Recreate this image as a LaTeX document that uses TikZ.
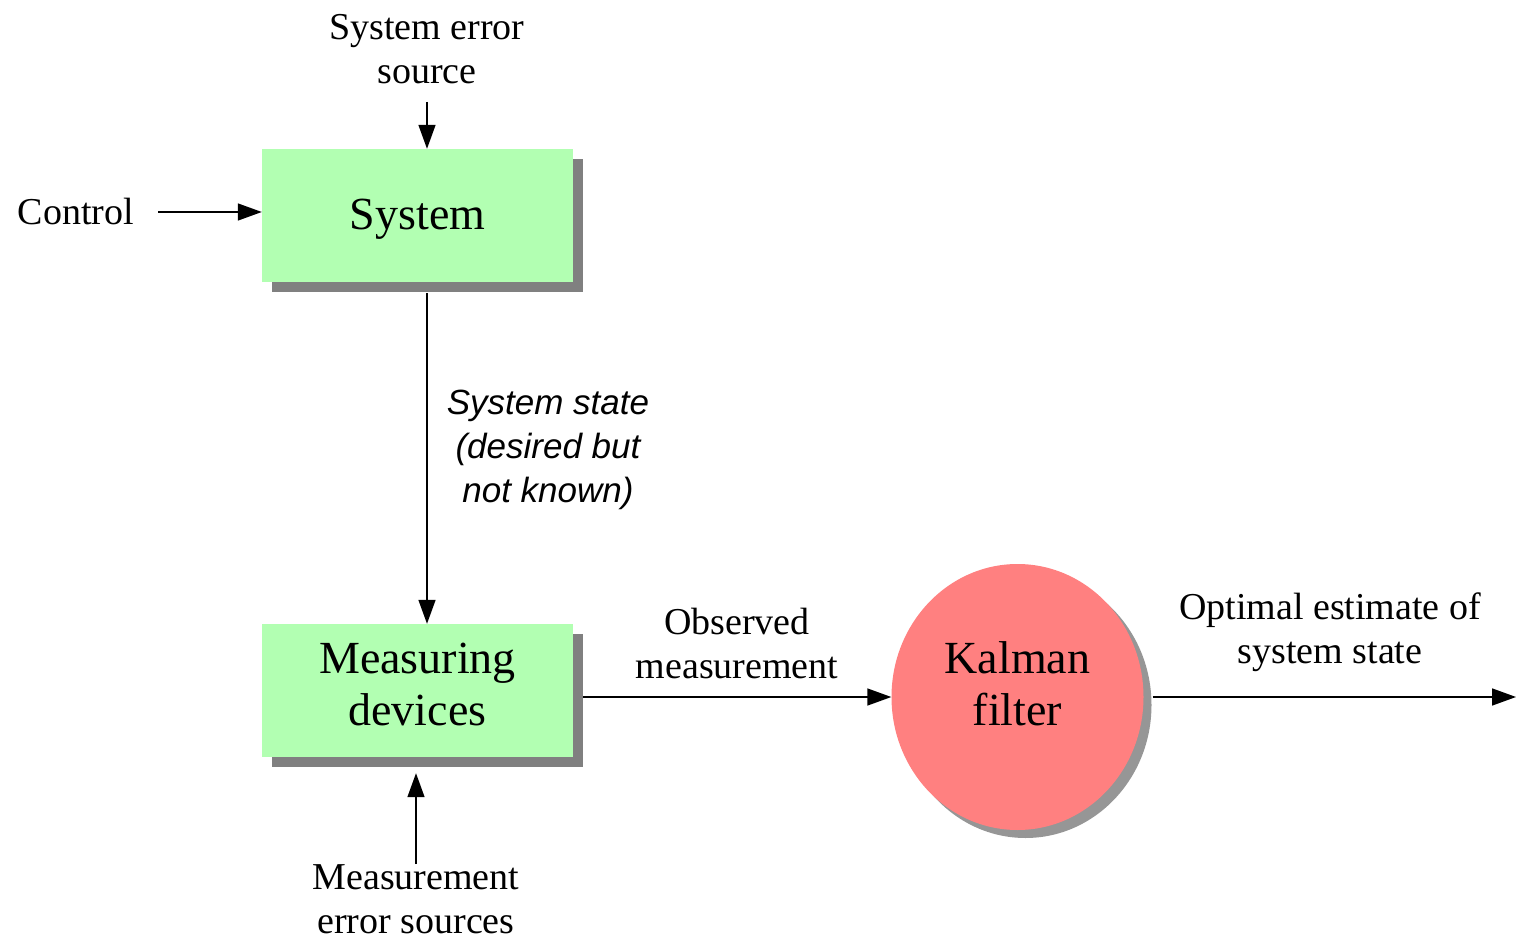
\documentclass[tikz,border=0pt]{standalone}
\usepackage{fontspec}
\setmainfont{Liberation Serif}
\setsansfont{Liberation Sans}
\usetikzlibrary{arrows.meta,shapes.geometric,shadows}
\definecolor{boxgreen}{RGB}{178,255,178}
\definecolor{kred}{RGB}{255,128,128}
\definecolor{shadowgray}{RGB}{128,128,128}
\definecolor{circgray}{RGB}{150,150,150}
\begin{document}
\begin{tikzpicture}[x=1pt,y=-1pt,
  blk/.style={draw=none, fill=boxgreen, minimum width=311pt, minimum height=133pt, inner sep=0pt,
    align=center, font=\fontsize{46}{52}\selectfont,
    drop shadow={shadow xshift=10pt, shadow yshift=-10pt, fill=shadowgray, opacity=1}},
  lbl/.style={align=center, inner sep=0pt, font=\fontsize{38}{44}\selectfont},
  big/.style={align=center, inner sep=0pt, font=\fontsize{46}{52}\selectfont},
  stl/.style={align=center, inner sep=0pt, font=\sffamily\itshape\fontsize{35}{44}\selectfont},
  arr/.style={line width=1.5pt, -{Triangle[length=24pt,width=17pt]}}
]
\useasboundingbox (0,0) rectangle (1516,941);
\fill[white] (0,0) rectangle (1516,941);

\node[blk] (sys) at (417.5,215.5) {};
\node[big] (syst) at (417.5,219) {System};
\node[blk] (meas) at (417.5,690.5) {};
\node[big] (meast) at (417.5,684) {Measuring\\devices};
\node[ellipse, fill=kred, minimum width=252pt, minimum height=266pt, inner sep=0pt,
  drop shadow={shadow xshift=8pt, shadow yshift=-8pt, fill=circgray, opacity=1}] (kf) at (1017.5,697) {};
\node[big] (kft) at (1017.5,684) {Kalman\\filter};

\node[lbl] (src) at (427,49) {System error\\source};
\node[lbl, anchor=east] (ctrl) at (134,212) {Control};
\node[lbl] (obs) at (737,643) {Observed\\measurement};
\node[lbl] (opt) at (1330,632) {Optimal estimate of\\system state};
\node[lbl] (mes) at (416,899) {Measurement\\error sources};
\node[stl] (st) at (548,450) {System state\\(desired but\\not known)};
\coordinate (out) at (1516,697);

\draw[arr, shorten <=18pt] (src.south) -- (src.south |- sys.north);
\draw[arr, shorten <=24pt] (ctrl.east) -- (sys.west |- ctrl.east);
\draw[arr, shorten <=11pt] (sys.south -| src.south) -- (meas.north -| src.south);
\draw[arr, shorten >=16pt] (mes.north) -- (meas.south -| mes.north);
\draw[arr, shorten <=10pt] (meas.east |- kf.west) -- (kf.west);
\draw[arr, shorten <=9pt] (kf.east) -- (out);
\end{tikzpicture}
\end{document}
